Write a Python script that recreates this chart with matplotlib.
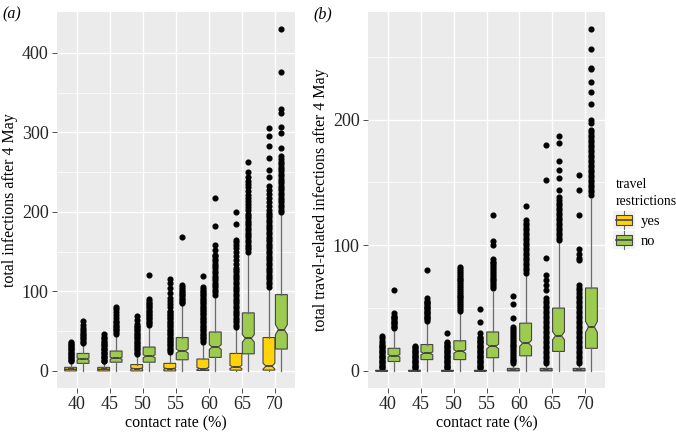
import matplotlib
matplotlib.use('Agg')
import matplotlib.pyplot as plt
import numpy as np
from matplotlib.patches import Patch, Rectangle
from matplotlib.lines import Line2D
from matplotlib.legend_handler import HandlerBase

plt.rcParams['font.family'] = ['Liberation Serif', 'DejaVu Serif']

contact_rates = ['40', '45', '50', '55', '60', '65', '70']
n_runs = 300

# (a) total infections after 4 May
a_yes_q1 = [0, 0, 0, 0, 0.5, 1, 1]
a_yes_med = [2, 2, 3, 3, 3, 5, 6]
a_yes_q3 = [4.5, 4.5, 8, 9.5, 15, 22, 42]
a_yes_lo = [0, 0, 0, 0, 0, 0, 0]
a_yes_hi = [10, 10, 20, 23, 36, 54, 104]
a_yes_out = [
    [12, 14, 15, 17, 18, 20, 21, 23, 24, 26, 27, 29, 30, 32, 33, 35, 37],
    [12, 13, 15, 17, 18, 20, 22, 23, 25, 27, 28, 30, 32, 33, 35, 37, 39, 41, 43, 46],
    [21, 23, 25, 27, 29, 31, 33, 35, 37, 39, 41, 43, 45, 47, 49, 51, 53, 55, 57, 59, 64, 69],
    [24, 26, 28, 30, 32, 34, 36, 38, 40, 42, 44, 46, 48, 50, 52, 54, 56, 58, 60, 62, 64, 66,
     68, 70, 72, 74, 76, 80, 84, 88, 92, 98, 104, 110, 116],
    [37, 39, 41, 43, 45, 47, 49, 51, 53, 55, 57, 59, 61, 63, 65, 67, 69, 71, 73, 75, 77, 79,
     81, 83, 85, 87, 89, 91, 93, 95, 97, 99, 101, 103, 106, 120],
    [55, 58, 61, 64, 67, 70, 73, 76, 79, 82, 85, 88, 91, 94, 97, 100, 103, 106, 109, 112, 115,
     118, 121, 124, 127, 130, 135, 140, 145, 150, 155, 158, 162, 165, 185, 200],
    [106, 109, 112, 115, 118, 121, 124, 127, 130, 133, 136, 139, 142, 145, 148, 151, 154, 157,
     160, 163, 166, 169, 172, 175, 178, 181, 184, 187, 190, 193, 196, 199, 203, 207, 212, 217,
     222, 228, 232, 244, 253, 268, 283, 295, 306],
]
a_no_q1 = [9.5, 11, 11, 14, 17, 21.5, 27.5]
a_no_med = [15, 16, 18.5, 25, 30, 41, 52]
a_no_q3 = [22, 25, 30, 42, 49, 73, 96]
a_no_lo = [0, 0, 0, 0, 0, 0, 0]
a_no_hi = [33, 45, 56, 83, 94, 148, 196]
a_no_out = [
    [35, 37, 39, 41, 43, 45, 47, 49, 51, 54, 58, 63],
    [47, 49, 51, 53, 55, 57, 59, 61, 63, 66, 70, 74, 78, 81],
    [58, 60, 62, 64, 66, 68, 70, 72, 74, 76, 78, 80, 82, 84, 86, 88, 90, 121],
    [85, 87, 89, 91, 93, 95, 97, 99, 101, 103, 105, 108, 168],
    [96, 99, 102, 105, 108, 111, 114, 117, 120, 123, 126, 129, 132, 135, 138, 141, 144, 146,
     152, 158, 182, 218],
    [150, 153, 156, 159, 162, 165, 168, 171, 174, 177, 180, 183, 186, 189, 192, 195, 198, 202,
     206, 210, 214, 217, 221, 226, 231, 235, 239, 244, 250, 263],
    [200, 203, 206, 209, 212, 215, 218, 221, 224, 227, 230, 233, 236, 239, 242, 245, 248, 251,
     254, 257, 260, 263, 266, 270, 281, 299, 307, 325, 330, 376, 430],
]

# (b) total travel-related infections after 4 May
b_yes_q1 = [0, 0, 0, 0, 0, 0, 0]
b_yes_med = [0, 0, 0, 0, 0.5, 0.5, 0.5]
b_yes_q3 = [0.5, 0.5, 0.5, 0.5, 2, 2, 2]
b_yes_lo = [0, 0, 0, 0, 0, 0, 0]
b_yes_hi = [1, 1, 1, 1, 5, 5, 5]
b_yes_out = [
    [2, 3, 4, 5, 6, 7, 8, 9, 10, 11, 12, 13, 14, 15, 16, 17, 18, 19, 20, 21, 22, 24, 26, 28],
    [2, 3, 4, 5, 6, 7, 8, 9, 10, 11, 12, 13, 14, 15, 16, 17, 18, 19, 20],
    [2, 3, 4, 5, 6, 7, 8, 9, 10, 11, 12, 13, 14, 15, 16, 17, 18, 19, 20, 21, 22, 23, 30],
    [2, 3, 4, 5, 6, 7, 8, 9, 10, 11, 12, 13, 14, 15, 16, 17, 18, 19, 20, 21, 22, 23, 24, 25,
     26, 27, 30, 39, 49],
    [6, 7.5, 9, 10.5, 12, 13.5, 15, 16.5, 18, 19.5, 21, 22.5, 24, 25.5, 27, 28.5, 30, 31.5,
     33, 35, 42, 53, 60],
    [6, 8, 10, 12, 14, 16, 18, 20, 22, 24, 26, 28, 30, 32, 34, 36, 38, 40, 42, 44, 46, 48, 50,
     52, 54, 56, 58, 64, 68, 72, 76, 90, 152, 180],
    [6, 8, 10, 12, 14, 16, 18, 20, 22, 24, 26, 28, 30, 32, 34, 36, 38, 40, 42, 44, 46, 48, 50,
     52, 54, 56, 58, 60, 62, 64, 66, 68, 88, 90, 93, 97, 124, 144, 156],
]
b_no_q1 = [7.5, 9, 9, 10.5, 12, 15.5, 18]
b_no_med = [12, 14, 15.5, 19.5, 22, 28, 35]
b_no_q3 = [18, 21, 24, 31, 38, 50, 66]
b_no_lo = [0, 0, 0, 0, 0, 0, 0]
b_no_hi = [32, 38, 46, 63, 76, 102, 137]
b_no_out = [
    [34, 35, 36, 37, 38, 39, 40, 41, 42, 43, 44, 46, 64],
    [40, 41, 42, 43, 44, 45, 46, 47, 48, 49, 50, 51, 52, 53, 54, 55, 56, 58, 80],
    [48, 49.5, 51, 52.5, 54, 55.5, 57, 58.5, 60, 61.5, 63, 64.5, 66, 67.5, 69, 70.5, 72,
     73.5, 75, 76.5, 78, 79.5, 81, 83],
    [66, 67.5, 69, 70.5, 72, 73.5, 75, 76.5, 78, 79.5, 81, 82.5, 84, 85.5, 87, 89, 100, 103,
     124],
    [78, 80, 82, 84, 86, 88, 90, 92, 94, 96, 98, 100, 102, 104, 106, 108, 110, 112, 114, 116,
     118, 120, 131],
    [104, 106, 108, 110, 112, 114, 116, 118, 120, 122, 124, 126, 128, 130, 132, 134, 136, 138,
     144, 153.5, 160, 167, 181, 187],
    [140, 142, 144, 146, 148, 150, 152, 154, 156, 158, 160, 162, 164, 166, 168, 170, 172, 174,
     176, 178, 180, 182, 184, 186, 188, 190, 192, 197, 200, 212, 222, 230, 240, 241, 256, 272],
]

yes_col = '#FFD20A'
no_col = '#9CCB4F'
edge = '#454545'
whisk = '#6A6A6A'


def box_stats(q1, med, q3, lo, hi, out):
    stats = []
    for i in range(len(med)):
        half = 1.58 * (q3[i] - q1[i]) / np.sqrt(n_runs)
        stats.append(dict(med=med[i], q1=q1[i], q3=q3[i], whislo=lo[i], whishi=hi[i],
                          fliers=out[i], cilo=med[i] - half, cihi=med[i] + half))
    return stats


def draw_boxes(ax, stats, pos, color):
    ax.bxp(stats, positions=pos, widths=0.36, patch_artist=True, shownotches=True,
           showcaps=False, manage_ticks=False,
           boxprops=dict(facecolor=color, edgecolor=edge, linewidth=0.8),
           medianprops=dict(color=edge, linewidth=1.4),
           whiskerprops=dict(color=whisk, linewidth=0.9),
           flierprops=dict(marker='o', markerfacecolor='black', markeredgecolor='black',
                           markersize=3.4, linestyle='none'))


def style_axes(ax, ymax, major, minor):
    ax.set_facecolor('#EBEBEB')
    for s in ax.spines.values():
        s.set_visible(False)
    ax.set_yticks(major)
    ax.set_yticks(minor, minor=True)
    ax.grid(True, which='major', color='white', linewidth=1.0)
    ax.grid(True, which='minor', axis='y', color='white', linewidth=0.5)
    ax.set_axisbelow(True)
    ax.set_xlim(0.4, 7.6)
    ax.set_ylim(-0.05 * ymax, 1.05 * ymax)
    ax.set_xticks(np.arange(1, 8))
    ax.set_xticklabels(contact_rates)
    ax.tick_params(which='major', length=3.5, width=0.6, color='#333333',
                   labelcolor='#262626', labelsize=13, pad=2.5)
    ax.tick_params(which='minor', length=0)
    ax.set_xlabel('contact rate (%)', fontsize=11.5, labelpad=1.5)


class BoxKey(HandlerBase):
    def create_artists(self, legend, orig_handle, xd, yd, width, height, fontsize, trans):
        cx = -xd + width / 2
        bg = Rectangle((-xd + width / 2 - 8, -yd - 2), 16, height + 4, facecolor='#F2F2F2',
                       edgecolor='none', transform=trans)
        box = Rectangle((cx - 6, -yd + height * 0.1), 12, height * 0.8,
                        facecolor=orig_handle.get_facecolor(), edgecolor=edge,
                        linewidth=0.8, transform=trans)
        mid = -yd + height / 2
        med = Line2D([cx - 6, cx + 6], [mid, mid], color=edge, linewidth=1.2, transform=trans)
        w1 = Line2D([cx, cx], [-yd - 2, -yd + height * 0.1], color=whisk, linewidth=0.8,
                    transform=trans)
        w2 = Line2D([cx, cx], [-yd + height * 0.9, -yd + height + 2], color=whisk,
                    linewidth=0.8, transform=trans)
        return [bg, w1, w2, box, med]


fig = plt.figure(figsize=(6.76, 4.33), dpi=100)
ax1 = fig.add_axes([0.0843, 0.1039, 0.3521, 0.8684])
ax2 = fig.add_axes([0.5444, 0.1039, 0.3506, 0.8684])

x = np.arange(1, 8)
draw_boxes(ax1, box_stats(a_yes_q1, a_yes_med, a_yes_q3, a_yes_lo, a_yes_hi, a_yes_out),
           x - 0.1875, yes_col)
draw_boxes(ax1, box_stats(a_no_q1, a_no_med, a_no_q3, a_no_lo, a_no_hi, a_no_out),
           x + 0.1875, no_col)
style_axes(ax1, 430, [0, 100, 200, 300, 400], [50, 150, 250, 350])
ax1.set_ylabel('total infections after 4 May', fontsize=11.5, labelpad=3)

draw_boxes(ax2, box_stats(b_yes_q1, b_yes_med, b_yes_q3, b_yes_lo, b_yes_hi, b_yes_out),
           x - 0.1875, yes_col)
draw_boxes(ax2, box_stats(b_no_q1, b_no_med, b_no_q3, b_no_lo, b_no_hi, b_no_out),
           x + 0.1875, no_col)
style_axes(ax2, 272, [0, 100, 200], [50, 150, 250])
ax2.set_ylabel('total travel-related infections after 4 May', fontsize=11.5, labelpad=3)

fig.text(0.004, 0.985, '(a)', fontstyle='italic', fontsize=11.5, va='top', ha='left')
fig.text(0.463, 0.985, '(b)', fontstyle='italic', fontsize=11.5, va='top', ha='left')

handles = [Patch(facecolor=yes_col), Patch(facecolor=no_col)]
leg = fig.legend(handles, ['yes', 'no'], title='travel\nrestrictions', loc='upper left',
                 bbox_to_anchor=(0.911, 0.588), borderaxespad=0, frameon=False,
                 fontsize=10.5, title_fontsize=9.8, alignment='left',
                 handler_map={Patch: BoxKey()}, handlelength=1.1, handleheight=0.9,
                 handletextpad=0.6, labelspacing=0.4, borderpad=0)
leg.get_title().set_linespacing(1.35)

fig.savefig('out.png', dpi=100)
